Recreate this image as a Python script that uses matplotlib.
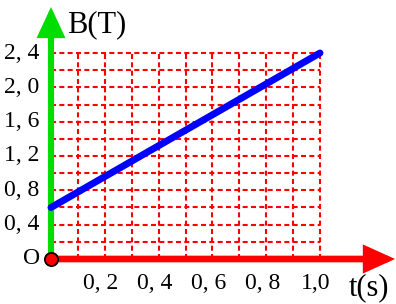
import matplotlib
matplotlib.use("Agg")
import matplotlib.pyplot as plt
from matplotlib.patches import FancyArrowPatch
import numpy as np

# Data
t_values = [0.0, 1.0]
B_values = [0.6, 2.4]
x_ticks = [0.2, 0.4, 0.6, 0.8, 1.0]
x_tick_labels = ["0, 2", "0, 4", "0, 6", "0, 8", "1,0"]
y_ticks = [0.4, 0.8, 1.2, 1.6, 2.0, 2.4]
y_tick_labels = ["0, 4", "0, 8", "1, 2", "1, 6", "2, 0", "2, 4"]
x_grid = np.arange(1, 11) * 0.1
y_grid = np.arange(1, 13) * 0.2

plt.rcParams['font.family'] = ['Liberation Serif', 'DejaVu Serif']

fig = plt.figure(figsize=(3.96, 3.04), dpi=100)
ax = fig.add_axes([0, 0, 1, 1])
ax.set_xlim(-0.1896, 1.2825)
ax.set_ylim(-0.5243, 3.0175)
ax.axis('off')

RED = '#ff0000'
GREEN = '#00dd00'
BLUE = '#0000ff'

# Grid
for xv in x_grid:
    ax.plot([xv, xv], [0, y_grid[-1]], color=RED, lw=1.5, ls=(0, (2.4, 1.6)), zorder=1)
for yv in y_grid:
    ax.plot([0, x_grid[-1]], [yv, yv], color=RED, lw=1.5, ls=(0, (2.4, 1.6)), zorder=1)

# Axes arrows
x_tip = 1.279
y_tip = 2.936
ax.add_patch(FancyArrowPatch((0, 0), (x_tip, 0), arrowstyle='-|>,head_length=15,head_width=6.8',
                             mutation_scale=1, color=RED, lw=4.8, shrinkA=0, shrinkB=0,
                             joinstyle='miter', zorder=3))
ax.add_patch(FancyArrowPatch((0, 0), (0, y_tip), arrowstyle='-|>,head_length=15,head_width=7',
                             mutation_scale=1, color=GREEN, lw=4.4, shrinkA=0, shrinkB=0,
                             joinstyle='miter', zorder=3))

# Data line
ax.plot(t_values, B_values, color=BLUE, lw=5.0, solid_capstyle='round', zorder=4)

# Origin dot
ax.plot([0], [0], 'o', ms=9.5, mfc=RED, mec='black', mew=1.3, zorder=5)

# Tick labels
for xv, lab in zip(x_ticks, x_tick_labels):
    ax.text(xv - 0.015, -0.28, lab, ha='center', va='center', fontsize=17)
for yv, lab in zip(y_ticks, y_tick_labels):
    ax.text(-0.042, yv, lab, ha='right', va='center', fontsize=17)

ax.text(-0.042, 0, "O", ha='right', va='center', fontsize=17)
ax.text(0.06, 2.73, "B(T)", ha='left', va='center', fontsize=22)
ax.text(1.108, -0.33, "t(s)", ha='left', va='center', fontsize=22)

fig.savefig("out.png", dpi=100)
